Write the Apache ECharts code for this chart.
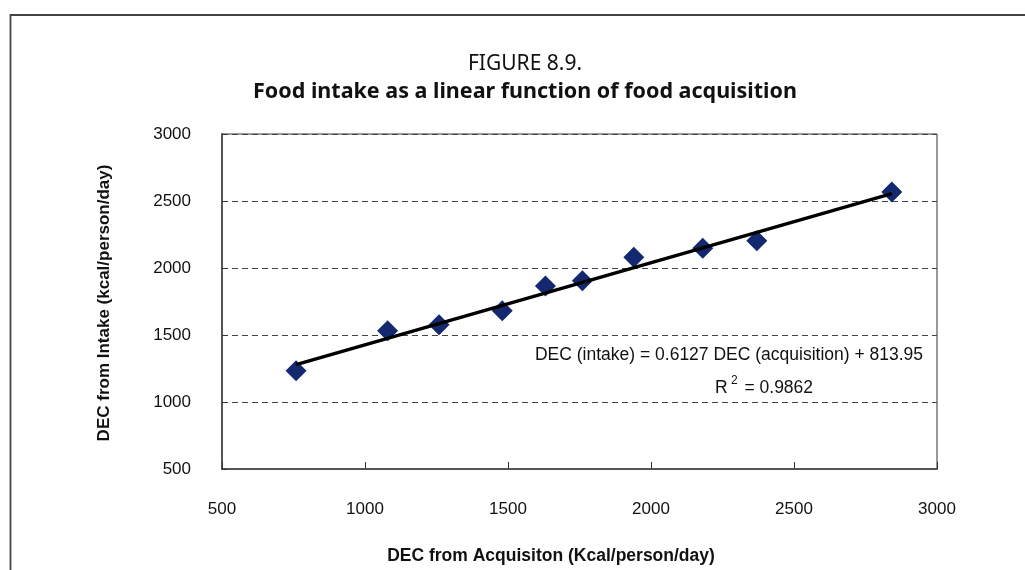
<!DOCTYPE html>
<html>
<head>
<meta charset="utf-8">
<script src="https://cdn.jsdelivr.net/npm/echarts@6/dist/echarts.min.js"></script>
<style>html,body{margin:0;padding:0;background:#fff;}#c{width:1025px;height:570px;}</style>
</head>
<body>
<div id="c"></div>
<script>
const acquisition = [759, 1079, 1259, 1480, 1631, 1760, 1940, 2181, 2370, 2842];
const intake = [1234, 1532, 1577, 1681, 1866, 1905, 2080, 2147, 2204, 2567];
const axisTicks = [500, 1000, 1500, 2000, 2500, 3000];
const slope = 0.6127;
const intercept = 813.95;
const rSquared = '0.9862';
const titleLine1 = 'FIGURE 8.9.';
const titleLine2 = 'Food intake as a linear function of food acquisition';
const xName = 'DEC from Acquisiton (Kcal/person/day)';
const yName = 'DEC from Intake (kcal/person/day)';

const points = acquisition.map((x, i) => [x, intake[i]]);
const xMin = Math.min(...acquisition), xMax = Math.max(...acquisition);
const trend = [[xMin, slope * xMin + intercept], [xMax, slope * xMax + intercept]];

const chart = echarts.init(document.getElementById('c'), null, {renderer: 'canvas'});
const lblFont = "'Liberation Sans', Arial, sans-serif";
const titleFont = "'Noto Sans', 'Open Sans', sans-serif";
chart.setOption({
  animation: false,
  backgroundColor: '#fff',
  grid: {left: 222, right: 88, top: 134, bottom: 101, show: true, borderColor: '#333', borderWidth: 1},
  xAxis: {
    type: 'value', min: axisTicks[0], max: axisTicks[axisTicks.length - 1], interval: 500,
    axisLine: {show: true, onZero: false, lineStyle: {color: '#555', width: 2}},
    axisTick: {show: true, inside: true, length: 7, lineStyle: {color: '#333', width: 1}},
    axisLabel: {margin: 32, fontSize: 17, color: '#111', fontFamily: lblFont, formatter: v => String(v)},
    splitLine: {show: false}
  },
  yAxis: {
    type: 'value', min: axisTicks[0], max: axisTicks[axisTicks.length - 1], interval: 500,
    axisLine: {show: true, onZero: false, lineStyle: {color: '#555', width: 2}},
    axisTick: {show: true, inside: true, length: 5, lineStyle: {color: '#333', width: 1}},
    axisLabel: {margin: 31, fontSize: 17, color: '#111', fontFamily: lblFont, formatter: v => String(v)},
    splitLine: {show: true, lineStyle: {color: '#444', width: 1, type: [6, 4]}}
  },
  series: [
    {
      type: 'line', data: trend, showSymbol: false, symbol: 'none',
      lineStyle: {color: '#000', width: 3.5}, z: 3, silent: true
    },
    {
      type: 'scatter', data: points, symbol: 'diamond', symbolSize: [21, 21],
      itemStyle: {color: '#13286E', opacity: 1}, z: 2
    }
  ],
  graphic: [
    {type: 'rect', shape: {x: 10.5, y: 15, width: 1100, height: 700}, style: {fill: 'none', stroke: '#444', lineWidth: 1.8}, silent: true},
    {type: 'text', x: 525, y: 64, style: {text: titleLine1, font: "21px " + titleFont, fill: '#111', textAlign: 'center', textVerticalAlign: 'middle'}},
    {type: 'text', x: 525, y: 92, style: {text: titleLine2, font: "bold 21.5px " + titleFont, fill: '#111', textAlign: 'center', textVerticalAlign: 'middle'}},
    {type: 'text', x: 551, y: 556, style: {text: xName, font: "bold 17.5px " + lblFont, fill: '#111', textAlign: 'center', textVerticalAlign: 'middle'}},
    {type: 'text', x: 104, y: 303, rotation: Math.PI / 2, style: {text: yName, font: "bold 17px " + lblFont, fill: '#111', textAlign: 'center', textVerticalAlign: 'middle'}},
    {type: 'text', x: 729, y: 355, style: {text: 'DEC (intake) = ' + slope + ' DEC (acquisition) + ' + intercept.toFixed(2), font: "17.5px " + lblFont, fill: '#111', textAlign: 'center', textVerticalAlign: 'middle'}},
    {type: 'text', x: 764, y: 386, style: {
      text: '{a|R}{s| 2}{a| = ' + rSquared + '}',
      textAlign: 'center', textVerticalAlign: 'middle',
      rich: {
        a: {font: "17.5px " + lblFont, fill: '#111', color: '#111', verticalAlign: 'bottom', lineHeight: 22},
        s: {font: "12px " + lblFont, fill: '#111', color: '#111', verticalAlign: 'top', lineHeight: 22, padding: [0, 2, 9, 0]}
      }
    }}
  ]
});
</script>
</body>
</html>
